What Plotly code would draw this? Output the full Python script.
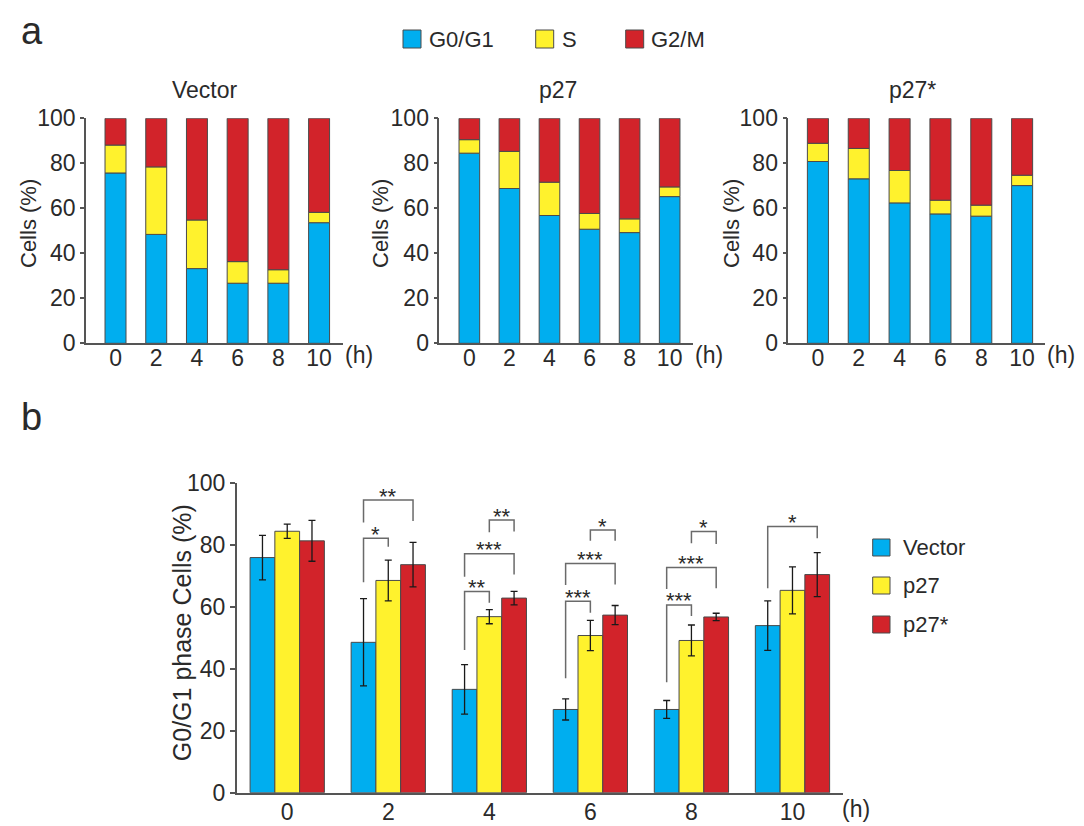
import plotly.graph_objects as go

W, H = 1084, 826
OFF = 8  # page body margin in the browser

# ---------------- data ----------------
hours = [0, 2, 4, 6, 8, 10]
hour_labels = ["0", "2", "4", "6", "8", "10"]
phases = ["G0/G1", "S", "G2/M"]
phase_colors = ["#00AEEF", "#FFF22D", "#D2232A"]

# Panel a: phase distribution (% of cells), stacked
vector_g0g1 = [75.7, 48.4, 33.2, 26.7, 26.7, 53.6]
vector_s = [12.4, 30.0, 21.6, 9.6, 6.0, 4.6]
vector_g2m = [11.9, 21.6, 45.2, 63.7, 67.3, 41.8]

p27_g0g1 = [84.5, 68.8, 56.8, 50.7, 49.2, 65.2]
p27_s = [6.0, 16.5, 14.8, 7.0, 6.1, 4.3]
p27_g2m = [9.5, 14.7, 28.4, 42.3, 44.7, 30.5]

p27s_g0g1 = [80.8, 73.1, 62.4, 57.5, 56.5, 70.1]
p27s_s = [8.1, 13.5, 14.4, 6.1, 4.9, 4.6]
p27s_g2m = [11.1, 13.4, 23.2, 36.4, 38.6, 25.3]

panel_a_titles = ["Vector", "p27", "p27*"]

# Panel b: G0/G1 phase cells (%) mean +/- error
groups = ["Vector", "p27", "p27*"]
group_colors = ["#00AEEF", "#FFF22D", "#D2232A"]
vector_mean = [76.0, 48.6, 33.4, 26.9, 26.9, 54.0]
vector_err = [7.2, 14.1, 8.0, 3.4, 2.9, 8.0]
p27_mean = [84.5, 68.6, 56.9, 50.8, 49.2, 65.4]
p27_err = [2.3, 6.6, 2.3, 4.9, 5.0, 7.6]
p27s_mean = [81.4, 73.7, 62.9, 57.4, 56.8, 70.5]
p27s_err = [6.6, 7.2, 2.2, 3.1, 1.2, 7.1]

# significance brackets (panel b)
sig_hour = [2, 2, 4, 4, 4, 6, 6, 6, 8, 8, 8, 10]
sig_from = [0, 0, 0, 0, 1, 0, 0, 1, 0, 0, 1, 0]
sig_to = [1, 2, 1, 2, 2, 1, 2, 2, 1, 2, 2, 2]
sig_text = ["*", "**", "**", "***", "**", "***", "***", "*", "***", "***", "*", "*"]
sig_top = [82.2, 94.6, 65.0, 77.2, 88.1, 61.9, 74.1, 84.9, 60.7, 72.8, 84.4, 86.0]
sig_left_end = [68.0, 87.3, 46.1, 69.8, 84.2, 37.0, 67.1, 81.4, 35.7, 65.8, 80.6, 66.1]
sig_right_end = [79.5, 87.8, 61.4, 70.5, 84.4, 58.2, 67.3, 81.4, 57.1, 66.1, 80.4, 82.2]

# ---------------- style ----------------
FONT = "Liberation Sans, Arial, Helvetica, sans-serif"
TXT = "#2a2a2a"
AX = "#555555"
EDGE = "#4a4a4a"
FS = 23


def px(x):
    return (x - OFF) / W


def py(y):
    return 1 - (y - OFF) / H


def axid(k):
    return "" if k == 1 else str(k)


fig = go.Figure()

panel_a = [
    (vector_g0g1, vector_s, vector_g2m),
    (p27_g0g1, p27_s, p27_g2m),
    (p27s_g0g1, p27s_s, p27s_g2m),
]
bar_w_a = 1.03
for k, series in enumerate(panel_a, start=1):
    base = [0.0] * len(hours)
    for j, vals in enumerate(series):
        fig.add_trace(go.Bar(
            x=hours, y=vals, base=list(base), width=bar_w_a, offset=-bar_w_a / 2,
            marker=dict(color=phase_colors[j], line=dict(color=EDGE, width=1)),
            name=phases[j], showlegend=False,
            xaxis="x" + axid(k), yaxis="y" + axid(k),
        ))
        base = [b + v for b, v in zip(base, vals)]

means = [vector_mean, p27_mean, p27s_mean]
errs = [vector_err, p27_err, p27s_err]
for j in range(3):
    fig.add_trace(go.Bar(
        x=hours, y=means[j], name=groups[j], showlegend=False,
        marker=dict(color=group_colors[j], line=dict(color=EDGE, width=1)),
        error_y=dict(type="data", array=errs[j], color="#1a1a1a", thickness=1.3, width=3.5),
        xaxis="x4", yaxis="y4",
    ))

BARGAP = 0.265
bar_w_b = 2 * (1 - BARGAP) / 3

# ---------------- axes ----------------
a_x_domains = [(86, 342.7), (439.3, 692.7), (788.3, 1045)]
a_x_ranges = [(-1.45, 11.16), (-1.50, 11.15), (-1.45, 11.12)]
a_y_domain = [py(343.3), py(118.3)]

layout = dict(
    template="none",
    width=W, height=H,
    margin=dict(l=0, r=0, t=0, b=0, pad=0),
    paper_bgcolor="white", plot_bgcolor="white",
    barmode="group", bargap=BARGAP, bargroupgap=0,
    font=dict(family=FONT, color=TXT, size=FS),
    showlegend=False,
)

for k in range(1, 4):
    d0, d1 = a_x_domains[k - 1]
    layout["xaxis" + axid(k)] = dict(
        domain=[px(d0), px(d1)], range=list(a_x_ranges[k - 1]), anchor="y" + axid(k),
        tickvals=hours, ticktext=hour_labels, ticks="", showline=True, automargin=False,
        ticklabelstandoff=-7,
        linecolor=AX, linewidth=1.5, showgrid=False, zeroline=False,
        tickfont=dict(size=FS, family=FONT, color=TXT),
    )
    layout["yaxis" + axid(k)] = dict(
        domain=a_y_domain, range=[0, 100], anchor="x" + axid(k), automargin=False,
        tickvals=[0, 20, 40, 60, 80, 100], ticks="outside", ticklen=4,
        tickcolor=AX, tickwidth=1.5, showline=True, linecolor=AX, linewidth=1.5,
        showgrid=False, zeroline=False,
        tickfont=dict(size=FS, family=FONT, color=TXT),
    )

layout["xaxis4"] = dict(
    domain=[px(236.7), px(843)], range=[-1.0, 11.0], anchor="y4", automargin=False,
    tickvals=hours, ticktext=hour_labels, ticks="", showline=True,
    ticklabelstandoff=-2,
    linecolor=AX, linewidth=1.5, showgrid=False, zeroline=False,
    tickfont=dict(size=FS, family=FONT, color=TXT),
)
layout["yaxis4"] = dict(
    domain=[py(792.7), py(483.3)], range=[0, 100], anchor="x4", automargin=False,
    tickvals=[0, 20, 40, 60, 80, 100], ticks="outside", ticklen=5,
    tickcolor=AX, tickwidth=1.5, showline=True, linecolor=AX, linewidth=1.5,
    showgrid=False, zeroline=False,
    tickfont=dict(size=FS, family=FONT, color=TXT),
)

shapes = []
annotations = []

# panel letters
annotations.append(dict(text="a", x=px(19), y=1, xref="paper", yref="paper",
                        xanchor="left", yanchor="top", showarrow=False,
                        font=dict(size=38, family=FONT, color=TXT)))
annotations.append(dict(text="b", x=px(19), y=py(417), xref="paper", yref="paper",
                        xanchor="left", yanchor="middle", showarrow=False,
                        font=dict(size=38, family=FONT, color=TXT)))

# panel a titles
a_title_x = [205, 558, 912]
for k in range(3):
    annotations.append(dict(text=panel_a_titles[k], x=px(a_title_x[k]), y=py(90),
                            xref="paper", yref="paper", xanchor="center", yanchor="middle",
                            showarrow=False, font=dict(size=FS, family=FONT, color=TXT)))

# y-axis titles
a_ytitle_x = [28, 380, 731]
for k in range(3):
    annotations.append(dict(text="Cells (%)", x=px(a_ytitle_x[k]), y=py(224), textangle=-90,
                            xref="paper", yref="paper", xanchor="center", yanchor="middle",
                            showarrow=False, font=dict(size=22, family=FONT, color=TXT)))
annotations.append(dict(text="G0/G1 phase Cells (%)", x=px(181.7), y=py(632.5), textangle=-90,
                        xref="paper", yref="paper", xanchor="center", yanchor="middle",
                        showarrow=False, font=dict(size=25, family=FONT, color=TXT)))

# "(h)" unit labels
for k in range(1, 5):
    annotations.append(dict(text="(h)", x=1, y=0, xref="x" + axid(k) + " domain",
                            yref="y" + axid(k) + " domain",
                            xanchor="left", yanchor="top", xshift=-3 if k == 4 else 0,
                            yshift=3 if k < 4 else -1,
                            showarrow=False, font=dict(size=FS, family=FONT, color=TXT)))

# top legend (phases)
leg_sq_x = [403, 535.7, 625.7]
leg_tx_x = [429, 562, 651]
for j in range(3):
    shapes.append(dict(type="rect", xref="paper", yref="paper",
                       x0=px(leg_sq_x[j]), x1=px(leg_sq_x[j] + 18), y0=py(48), y1=py(30),
                       fillcolor=phase_colors[j], line=dict(color=EDGE, width=1)))
    annotations.append(dict(text=phases[j], x=px(leg_tx_x[j] - 2), y=py(39), xref="paper", yref="paper",
                            xanchor="left", yanchor="middle", showarrow=False,
                            font=dict(size=22, family=FONT, color=TXT)))

# panel b legend (groups)
leg2_y = [539, 577, 616]
for j in range(3):
    shapes.append(dict(type="rect", xref="paper", yref="paper",
                       x0=px(872.7), x1=px(890), y0=py(leg2_y[j] + 17), y1=py(leg2_y[j]),
                       fillcolor=group_colors[j], line=dict(color=EDGE, width=1)))
    annotations.append(dict(text=groups[j], x=px(900.7), y=py(leg2_y[j] + 8.5), xref="paper", yref="paper",
                            xanchor="left", yanchor="middle", showarrow=False,
                            font=dict(size=22, family=FONT, color=TXT)))

# significance brackets
for i in range(len(sig_hour)):
    x0 = sig_hour[i] + (sig_from[i] - 1) * bar_w_b
    x1 = sig_hour[i] + (sig_to[i] - 1) * bar_w_b
    path = (f"M {x0},{sig_left_end[i]} L {x0},{sig_top[i]} "
            f"L {x1},{sig_top[i]} L {x1},{sig_right_end[i]}")
    shapes.append(dict(type="path", path=path, xref="x4", yref="y4",
                       line=dict(color="#6a6a6a", width=1.5)))
    annotations.append(dict(text=sig_text[i], x=(x0 + x1) / 2, y=sig_top[i], xref="x4", yref="y4",
                            xanchor="center", yanchor="middle", yshift=4, showarrow=False,
                            font=dict(size=22, family=FONT, color=TXT)))

layout["shapes"] = shapes
layout["annotations"] = annotations
fig.update_layout(**layout)

fig.write_html("out.html")
